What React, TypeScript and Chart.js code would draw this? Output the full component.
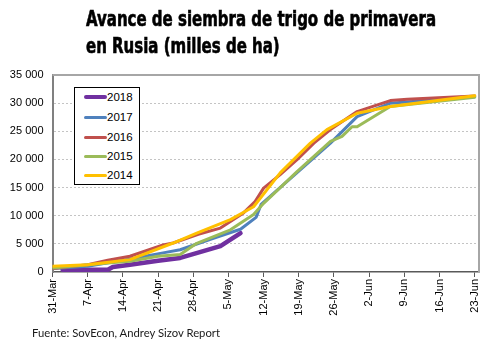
import React, { useEffect, useRef } from "react";
import { Chart, registerables } from "chart.js";
Chart.register(...registerables);

const tickLabels = ["31-Mar", "7-Apr", "14-Apr", "21-Apr", "28-Apr", "5-May", "12-May", "19-May", "26-May", "2-Jun", "9-Jun", "16-Jun", "23-Jun"];
const yTicks = [0, 5000, 10000, 15000, 20000, 25000, 30000, 35000];

// x = days since 31-Mar
const days2018 = [2, 11, 12, 15.4, 21, 25.4, 33.4, 37.4];
const values2018 = [400, 400, 900, 1300, 2000, 2500, 4600, 6900];

const days2017 = [0, 7, 15.4, 22, 25.4, 32, 37.4, 40.5, 41.5, 48.6, 55.3, 60.6, 67.2, 84];
const values2017 = [600, 1000, 2300, 3400, 3950, 6000, 7600, 9700, 12000, 17600, 22900, 27600, 30000, 31150];

const days2016 = [0, 7, 11, 15.4, 22, 24, 29, 33.4, 38, 40.3, 42, 45.3, 48.6, 52, 55.3, 60.6, 67.2, 70.6, 84];
const values2016 = [600, 1300, 2100, 2800, 4800, 5150, 6700, 7800, 10500, 12500, 14900, 17300, 19900, 22900, 25300, 28500, 30450, 30700, 31270];

const days2015 = [0, 11, 15.4, 21, 25.4, 28.7, 35.4, 40, 42, 48.6, 55.3, 57.6, 59.6, 60.6, 67.2, 84];
const values2015 = [700, 1600, 1900, 2800, 3100, 5100, 7500, 10200, 12200, 17800, 23200, 24100, 25800, 25800, 29400, 31050];

const days2014 = [0, 7, 15.4, 24, 28.7, 35.4, 40, 45.3, 51.3, 54.6, 60.6, 67.2, 84];
const values2014 = [1000, 1300, 2200, 5150, 6900, 9300, 11600, 17600, 22900, 25300, 28200, 29400, 31330];

const seriesNames = ["2018", "2017", "2016", "2015", "2014"];
const seriesColors = ["#7030A0", "#4F81BD", "#C0504D", "#9BBB59", "#FFC000"];
const seriesWidths = [4.5, 3, 3, 3, 3];
const seriesDays = [days2018, days2017, days2016, days2015, days2014];
const seriesValues = [values2018, values2017, values2016, values2015, values2014];

const framePlugin = {
  id: "frame",
  beforeDatasetsDraw(chart: any) {
    const { ctx, chartArea } = chart;
    ctx.save();
    ctx.strokeStyle = "#a6a6a6";
    ctx.lineWidth = 2;
    ctx.beginPath();
    ctx.moveTo(chartArea.left, chartArea.top);
    ctx.lineTo(chartArea.right, chartArea.top);
    ctx.lineTo(chartArea.right, chartArea.bottom);
    ctx.stroke();
    ctx.restore();
  },
};

export default function App() {
  const canvasRef = useRef<HTMLCanvasElement>(null);
  const titleRef = useRef<HTMLDivElement>(null);
  const line1Ref = useRef<HTMLSpanElement>(null);
  const srcRef = useRef<HTMLDivElement>(null);

  useEffect(() => {
    if (line1Ref.current && titleRef.current) {
      const w = line1Ref.current.getBoundingClientRect().width;
      titleRef.current.style.transform = `scaleX(${350 / w})`;
    }
    if (srcRef.current) {
      const w = srcRef.current.getBoundingClientRect().width;
      srcRef.current.style.transform = `scaleX(${188 / w})`;
    }
    const datasets = seriesNames.map((name, i) => ({
      label: name,
      data: seriesDays[i].map((d, j) => ({ x: d, y: seriesValues[i][j] })),
      borderColor: seriesColors[i],
      backgroundColor: seriesColors[i],
      borderWidth: seriesWidths[i],
      pointRadius: 0,
      tension: 0,
      borderCapStyle: "round" as const,
      borderJoinStyle: "round" as const,
    }));
    const chart = new Chart(canvasRef.current!, {
      type: "line",
      data: { datasets: datasets.slice().reverse() },
      options: {
        animation: false,
        responsive: false,
        layout: { padding: { top: 75, right: 21, left: 0, bottom: 0 } },
        plugins: { legend: { display: false }, tooltip: { enabled: false }, title: { display: false } },
        scales: {
          x: {
            type: "linear",
            min: 0,
            max: 84.85,
            afterBuildTicks: (scale: any) => {
              scale.ticks = tickLabels.map((_, i) => ({ value: i * 7 }));
            },
            afterFit: (scale: any) => {
              scale.height = 72;
            },
            ticks: {
              autoSkip: false,
              minRotation: 90,
              maxRotation: 90,
              padding: 2,
              color: "#000",
              font: { family: "'Liberation Sans', Arial, sans-serif", size: 11 },
              callback: (v: any) => tickLabels[Math.round(Number(v) / 7)] ?? "",
            },
            grid: { drawOnChartArea: false, drawTicks: true, tickLength: 5, color: "#595959", lineWidth: 1 },
            border: { display: true, color: "#595959", width: 1.5 },
          },
          y: {
            min: 0,
            max: 35000,
            afterBuildTicks: (scale: any) => {
              scale.ticks = yTicks.map((v) => ({ value: v }));
            },
            afterFit: (scale: any) => {
              scale.width = 52.5;
            },
            ticks: {
              padding: 9,
              color: "#000",
              font: { family: "'Liberation Sans', Arial, sans-serif", size: 11 },
              callback: (v: any) => Number(v).toLocaleString("en-US").replace(/,/g, " "),
            },
            grid: {
              drawTicks: false,
              color: (c: any) => (c.tick && (c.tick.value === 0 || c.tick.value === 35000) ? "rgba(0,0,0,0)" : "#c4c4c4"),
              lineWidth: 1,
            },
            border: { display: true, color: "#808080", width: 2, dash: [2, 2] },
          },
        },
      },
      plugins: [framePlugin],
    });
    return () => chart.destroy();
  }, []);

  return (
    <div style={{ position: "absolute", left: 0, top: 0, width: 500, height: 344, background: "#fff", overflow: "hidden" }}>
      <canvas ref={canvasRef} width={500} height={344} style={{ position: "absolute", left: 0, top: 0 }} />
      <div
        ref={titleRef}
        style={{
          position: "absolute",
          left: 86,
          top: 6,
          transformOrigin: "0 0",
          fontFamily: "'Liberation Sans Narrow', 'DejaVu Sans Condensed', 'Liberation Sans', Arial, sans-serif",
          fontWeight: "bold",
          fontSize: 21,
          lineHeight: "27px",
          color: "#000",
          whiteSpace: "nowrap",
          WebkitTextStroke: "0.6px #000",
        }}
      >
        <span ref={line1Ref}>Avance de siembra de trigo de primavera</span>
        <br />
        <span>en Rusia (milles de ha)</span>
      </div>
      <div
        style={{
          position: "absolute",
          left: 74,
          top: 87,
          width: 66,
          height: 98,
          boxSizing: "border-box",
          border: "1px solid #000",
          background: "#fff",
        }}
      >
        {seriesNames.map((name, i) => (
          <div key={name} style={{ position: "absolute", left: 0, top: [9, 29, 49, 68, 87][i] - 8, height: 16, width: 64 }}>
            <div
              style={{
                position: "absolute",
                left: 9,
                top: 8 - seriesWidths[i] / 2,
                width: 23,
                height: seriesWidths[i],
                background: seriesColors[i],
                borderRadius: 2,
              }}
            />
            <span
              style={{
                position: "absolute",
                left: 32,
                top: 1,
                fontFamily: "'Liberation Sans', Arial, sans-serif",
                fontSize: 11.5,
                lineHeight: "14px",
                color: "#000",
              }}
            >
              {name}
            </span>
          </div>
        ))}
      </div>
      <div
        ref={srcRef}
        style={{
          position: "absolute",
          left: 32,
          top: 326,
          transformOrigin: "0 0",
          fontFamily: "Lato, 'Open Sans', sans-serif",
          fontSize: 11.5,
          lineHeight: "14px",
          color: "#1a1a1a",
          whiteSpace: "nowrap",
        }}
      >
        Fuente: SovEcon, Andrey Sizov Report
      </div>
    </div>
  );
}
